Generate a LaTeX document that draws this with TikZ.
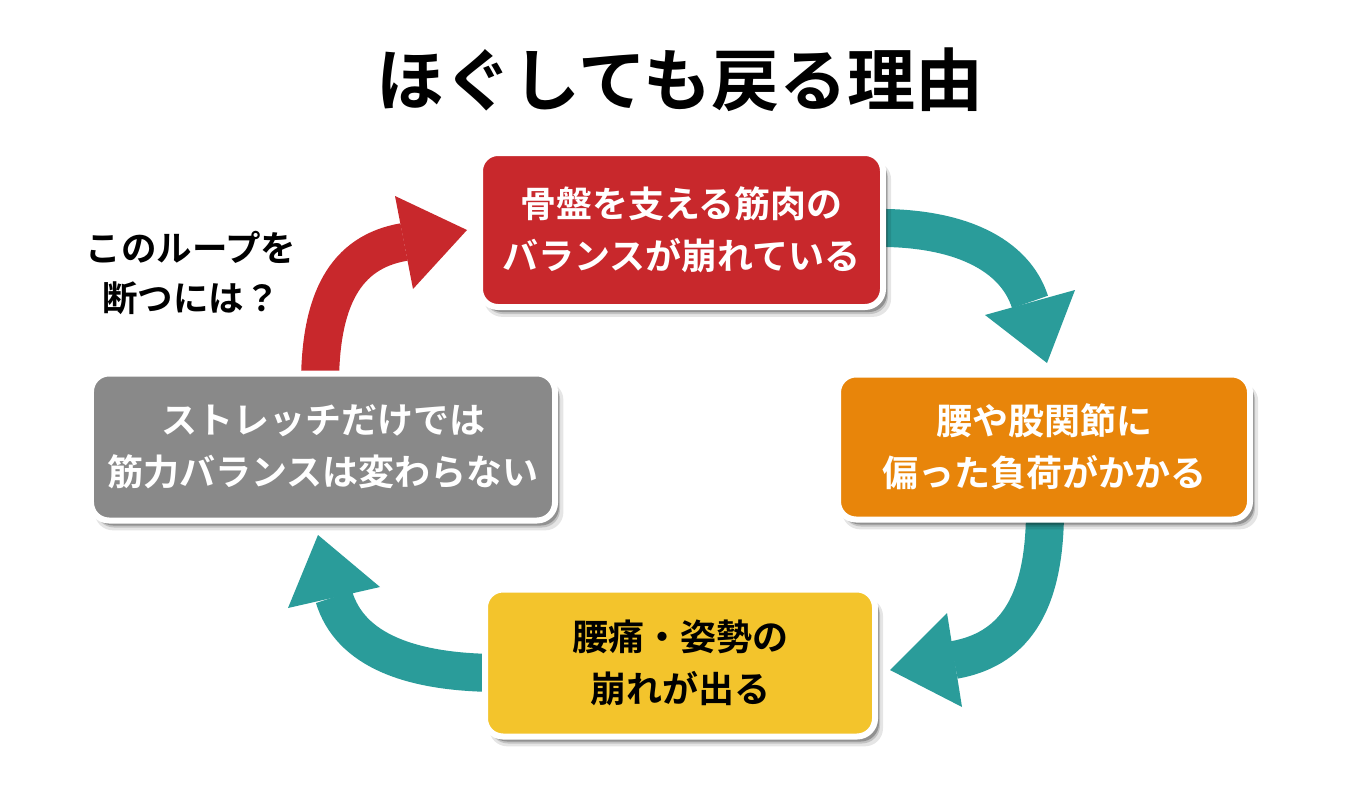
\documentclass[tikz,border=0pt]{standalone}
\usepackage{fontspec}
\setmainfont{Noto Sans CJK JP}[BoldFont={* Bold}]
\usetikzlibrary{shadows}
\definecolor{cred}{HTML}{C8282C}
\definecolor{corange}{HTML}{E8850A}
\definecolor{cyellow}{HTML}{F3C42C}
\definecolor{cgray}{HTML}{898989}
\definecolor{cteal}{HTML}{2A9C9A}
\tikzset{
  box/.style={rounded corners=18bp, draw=white, line width=6bp, text=white,
    font=\bfseries\fontsize{36bp}{52bp}\selectfont, align=center, inner sep=0pt,
    general shadow={shadow xshift=6bp, shadow yshift=-9bp, fill=black, opacity=0.10, shadow scale=1.01},
    general shadow={shadow xshift=5bp, shadow yshift=-7bp, fill=black, opacity=0.15},
    general shadow={shadow xshift=4bp, shadow yshift=-5bp, fill=black, opacity=0.25}},
  shaft/.style={line width=38bp},
  label/.style={font=\bfseries\fontsize{35.5bp}{50bp}\selectfont, align=center, text=black},
}
\begin{document}
\begin{tikzpicture}[x=1bp,y=-1bp]
\useasboundingbox[fill=white] (0,0) rectangle (1360,784);

% arrow coordinates
\coordinate (rs) at (320,385);
\coordinate (rb) at (404,242);
\coordinate (t1s) at (870,228);
\coordinate (t1b) at (1030,302);
\coordinate (t2s) at (1045,510);
\coordinate (t2b) at (954,660);
\coordinate (t3s) at (500,673);
\coordinate (t3b) at (334,597);

% arrows (under the boxes)
\draw[cred,shaft] (rs) .. controls (320,300) and (345,252) .. (rb);
\fill[cred] (395,196) -- (467,230) -- (413,289) -- cycle;

\draw[cteal,shaft] (t1s) .. controls (960,226) and (1015,255) .. (t1b);
\fill[cteal] (985,315) -- (1047,363) -- (1075,290) -- cycle;

\draw[cteal,shaft] (t2s) .. controls (1045,610) and (1010,650) .. (t2b);
\fill[cteal] (947,613) -- (890,670) -- (962,707) -- cycle;

\draw[cteal,shaft] (t3s) .. controls (410,673) and (350,650) .. (t3b);
\fill[cteal] (288,608) -- (318,535) -- (380,587) -- cycle;

% title
\node[font=\bfseries\fontsize{68bp}{80bp}\selectfont] (title) at (680,80) {ほぐしても戻る理由};

% boxes
\node[box, fill=cred, minimum width=403bp, minimum height=154bp] (red) at (681.5,230)
  {骨盤を支える筋肉の\\バランスが崩れている};
\node[box, fill=corange, minimum width=412bp, minimum height=145bp] (orange) at (1044,447)
  {腰や股関節に\\偏った負荷がかかる};
\node[box, fill=cyellow, text=black, minimum width=390bp, minimum height=147bp] (yellow) at (680,663)
  {腰痛・姿勢の\\崩れが出る};
\node[box, fill=cgray, minimum width=464bp, minimum height=147bp] (gray) at (323,447)
  {ストレッチだけでは\\筋力バランスは変わらない};

% side question
\node[label] (q) at (191,273) {このループを\\断つには？};
\end{tikzpicture}
\end{document}
